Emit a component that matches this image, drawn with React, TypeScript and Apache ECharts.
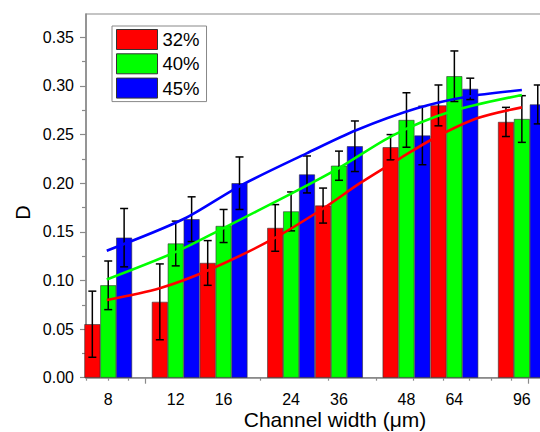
import React, { useEffect, useRef } from 'react';
import * as echarts from 'echarts';

// Group positions on the (log) x axis and their printed labels
const positions = [8, 12, 16, 24, 32, 48, 64, 96];
const tickLabels = ['8', '12', '16', '24', '36', '48', '64', '96'];
const seriesNames = ['32%', '40%', '45%'];
const colors = ['#ff0000', '#00ff00', '#0000ff'];

// Bar heights (D) and error bar half-lengths
const values32 = [0.055, 0.078, 0.118, 0.154, 0.177, 0.237, 0.280, 0.263];
const values40 = [0.095, 0.138, 0.156, 0.171, 0.218, 0.265, 0.310, 0.266];
const values45 = [0.144, 0.163, 0.200, 0.209, 0.238, 0.249, 0.297, 0.281];
const err32 = [0.034, 0.039, 0.023, 0.024, 0.018, 0.013, 0.021, 0.015];
const err40 = [0.025, 0.023, 0.017, 0.020, 0.015, 0.028, 0.026, 0.024];
const err45 = [0.030, 0.023, 0.027, 0.019, 0.026, 0.030, 0.011, 0.020];

// Fitted curves: [channel width, D]
const fit32: [number, number][] = [
  [7.93, 0.080], [10.9, 0.092], [14.7, 0.111], [21.6, 0.143], [29.1, 0.174],
  [36.3, 0.200], [46.2, 0.2256], [56.5, 0.246], [73.3, 0.2667], [96, 0.278],
];
const fit40: [number, number][] = [
  [7.93, 0.101], [12.05, 0.1296], [15.95, 0.1536], [24.1, 0.1896], [31.9, 0.2153],
  [44.4, 0.2495], [62.4, 0.2735], [96, 0.2907],
];
const fit45: [number, number][] = [
  [7.93, 0.1306], [12.54, 0.1629], [17.64, 0.1971], [26.35, 0.2307], [35.6, 0.2547],
  [51.1, 0.277], [69.0, 0.2889], [96, 0.2958],
];

const xMajorTicks = [10, 100];
const xMinorTicks = [7, 8, 9, 20, 30, 40, 50, 60, 70, 80, 90];
const yMajorTicks = [0, 0.05, 0.1, 0.15, 0.2, 0.25, 0.3, 0.35];
const yMinorTicks = [0.025, 0.075, 0.125, 0.175, 0.225, 0.275, 0.325];

const FONT = '"Liberation Sans", Arial, sans-serif';
const AXIS_COLOR = '#8a8a8a';
const BAR_W = 15.9;

export default function App() {
  const ref = useRef<HTMLDivElement>(null);

  useEffect(() => {
    if (!ref.current) return;
    const chart = echarts.init(ref.current, null, { renderer: 'svg' });

    const valueSets = [values32, values40, values45];
    const errSets = [err32, err40, err45];
    const fits = [fit32, fit40, fit45];

    const labelFor = (v: number) => {
      let best = 0;
      let bd = Infinity;
      positions.forEach((p, i) => {
        const d = Math.abs(Math.log(v) - Math.log(p));
        if (d < bd) { bd = d; best = i; }
      });
      return tickLabels[best];
    };

    const barSeries = seriesNames.map((name, si) => ({
      name,
      type: 'bar',
      xAxisIndex: 0,
      yAxisIndex: 0,
      barWidth: BAR_W,
      barGap: '0%',
      itemStyle: { color: colors[si], borderColor: '#333', borderWidth: 0.6 },
      data: positions.map((p, i) => [p, valueSets[si][i]]),
      z: 2,
    }));

    const errSeries = seriesNames.map((name, si) => ({
      name: 'err ' + name,
      type: 'custom',
      xAxisIndex: 0,
      yAxisIndex: 0,
      encode: { x: 0, y: 1 },
      clip: false,
      z: 3,
      data: positions.map((p, i) => [p, valueSets[si][i], errSets[si][i]]),
      renderItem: (params: any, api: any) => {
        const x = api.value(0);
        const y = api.value(1);
        const e = api.value(2);
        const top = api.coord([x, y + e]);
        const bot = api.coord([x, y - e]);
        const cx = top[0] + (si - 1) * BAR_W;
        const st = { stroke: '#000', lineWidth: 1.5 };
        return {
          type: 'group',
          children: [
            { type: 'line', shape: { x1: cx, y1: top[1], x2: cx, y2: bot[1] }, style: st },
            { type: 'line', shape: { x1: cx - 4, y1: top[1], x2: cx + 4, y2: top[1] }, style: st },
            { type: 'line', shape: { x1: cx - 4, y1: bot[1], x2: cx + 4, y2: bot[1] }, style: st },
          ],
        };
      },
    }));

    const fitSeries = seriesNames.map((name, si) => ({
      name: 'fit ' + name,
      type: 'line',
      xAxisIndex: 0,
      yAxisIndex: 0,
      smooth: 0.3,
      showSymbol: false,
      silent: true,
      lineStyle: { color: colors[si], width: 2.6 },
      itemStyle: { color: colors[si] },
      data: fits[si],
      z: 5,
    }));

    const xCommon = {
      type: 'log',
      logBase: 10,
      min: 7,
      max: 120,
      gridIndex: 0,
      splitLine: { show: false },
      minorTick: { show: false },
      minorSplitLine: { show: false },
    };
    const yCommon = {
      type: 'value',
      min: 0,
      max: 0.374,
      gridIndex: 0,
      splitLine: { show: false },
      minorTick: { show: false },
    };

    chart.setOption({
      animation: false,
      backgroundColor: '#ffffff',
      grid: {
        left: 86,
        top: 14,
        right: -19,
        bottom: 54.3,
        outerBoundsMode: 'none',
        containLabel: false,
        show: true,
        borderColor: AXIS_COLOR,
        borderWidth: 1.2,
        backgroundColor: 'transparent',
      },
      legend: {
        data: seriesNames,
        orient: 'vertical',
        left: 112,
        top: 26,
        icon: 'rect',
        itemWidth: 41,
        itemHeight: 20,
        itemGap: 3.3,
        padding: [3, 7, 3, 4],
        borderColor: '#888',
        borderWidth: 1,
        backgroundColor: '#fff',
        itemStyle: { borderColor: '#333', borderWidth: 1 },
        textStyle: { fontSize: 18.5, color: '#000', fontFamily: FONT },
      },
      xAxis: [
        {
          ...xCommon,
          position: 'bottom',
          axisLine: { show: true, lineStyle: { color: AXIS_COLOR, width: 1.5 } },
          axisTick: {
            show: true,
            customValues: xMajorTicks,
            length: 6,
            lineStyle: { color: AXIS_COLOR, width: 1.2 },
          },
          axisLabel: {
            show: true,
            customValues: positions,
            margin: 14,
            fontSize: 16,
            color: '#000',
            fontFamily: FONT,
            formatter: (v: number) => labelFor(v),
          },
        },
        {
          ...xCommon,
          position: 'bottom',
          axisLine: { show: false },
          axisLabel: { show: false },
          axisTick: {
            show: true,
            customValues: xMinorTicks,
            length: 3,
            lineStyle: { color: AXIS_COLOR, width: 1.2 },
          },
        },
      ],
      yAxis: [
        {
          ...yCommon,
          position: 'left',
          axisLine: { show: true, lineStyle: { color: AXIS_COLOR, width: 1.5 } },
          axisTick: {
            show: true,
            customValues: yMajorTicks,
            length: 6,
            lineStyle: { color: AXIS_COLOR, width: 1.2 },
          },
          axisLabel: {
            show: true,
            customValues: yMajorTicks,
            margin: 12,
            fontSize: 16,
            color: '#000',
            fontFamily: FONT,
            formatter: (v: number) => v.toFixed(2),
          },
        },
        {
          ...yCommon,
          position: 'left',
          axisLine: { show: false },
          axisLabel: { show: false },
          axisTick: {
            show: true,
            customValues: yMinorTicks,
            length: 4,
            lineStyle: { color: AXIS_COLOR, width: 1.2 },
          },
        },
      ],
      graphic: [
        {
          type: 'text',
          x: 335,
          y: 419,
          style: {
            text: 'Channel width (\u03bcm)',
            fontSize: 21,
            fontFamily: FONT,
            fill: '#000',
            textAlign: 'center',
            textVerticalAlign: 'middle',
          },
        },
        {
          type: 'text',
          x: 22.5,
          y: 212.5,
          rotation: Math.PI / 2,
          style: {
            text: 'D',
            fontSize: 20,
            fontFamily: FONT,
            fill: '#000',
            textAlign: 'center',
            textVerticalAlign: 'middle',
          },
        },
      ],
      series: [...barSeries, ...errSeries, ...fitSeries],
    });

    return () => chart.dispose();
  }, []);

  return (
    <div
      ref={ref}
      style={{ position: 'absolute', left: 0, top: 0, width: 540, height: 432 }}
    />
  );
}
